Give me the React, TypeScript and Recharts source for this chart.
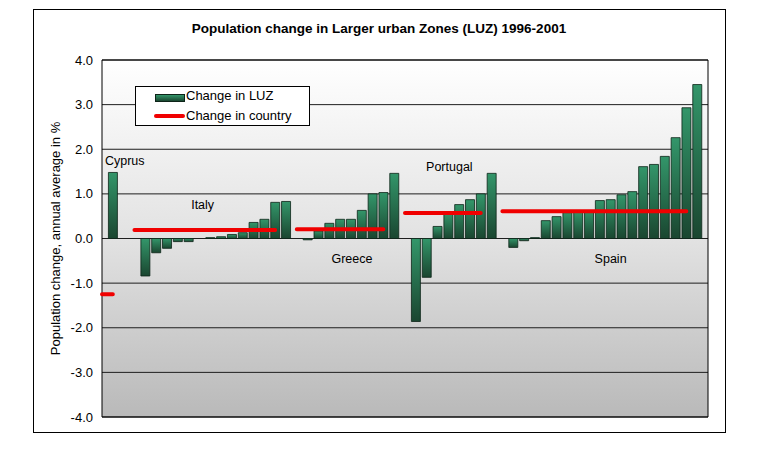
import React from "react";
import {
  ComposedChart,
  Bar,
  Line,
  XAxis,
  YAxis,
  CartesianGrid,
  ReferenceDot,
  ReferenceArea,
  Legend,
} from "recharts";

const FONT = "Arial, 'Liberation Sans', sans-serif";

// Annual average population change (%) per LUZ, sorted within each country
const cyprusLuz = [1.48];
const italyLuz = [-0.84, -0.32, -0.22, -0.07, -0.07, 0.0, 0.02, 0.04, 0.09, 0.13, 0.36, 0.43, 0.81, 0.83];
const greeceLuz = [-0.03, 0.17, 0.34, 0.43, 0.43, 0.63, 1.0, 1.03, 1.46];
const portugalLuz = [-1.86, -0.87, 0.27, 0.55, 0.76, 0.87, 1.0, 1.46];
const spainLuz = [-0.2, -0.05, 0.02, 0.4, 0.49, 0.58, 0.6, 0.62, 0.85, 0.87, 0.98, 1.05, 1.61, 1.66, 1.84, 2.26, 2.93, 3.45];

const countries = ["Cyprus", "Italy", "Greece", "Portugal", "Spain"];
const countryChange = [-1.25, 0.19, 0.21, 0.57, 0.61];
const luzByCountry = [cyprusLuz, italyLuz, greeceLuz, portugalLuz, spainLuz];
// empty category slots in front of each country group
const gapBefore = [0, 2, 1, 1, 1];
// where the country names sit (category slot, value)
const labelSlot = [2.1, 9.3, 23.1, 32.1, 47.0];
const labelValue = [1.74, 0.77, -0.45, 1.61, -0.44];

const yTicks = [-4, -3, -2, -1, 0, 1, 2, 3, 4];

type Row = { k: number; luz: number | null; country: number | null };

const groupStart: number[] = [];
let cursor = 0;
luzByCountry.forEach((vals, g) => {
  const start = cursor + 1 + gapBefore[g];
  groupStart.push(start);
  cursor = start + vals.length - 1;
});
const slotCount = cursor + 1;

const rows: Row[] = [];
for (let k = 0; k <= slotCount; k++) rows.push({ k, luz: null, country: null });
luzByCountry.forEach((vals, g) => {
  const s = groupStart[g];
  vals.forEach((v, i) => {
    rows[s + i].luz = v;
  });
  // the country average runs one slot ahead of its bars
  const from = s - 1;
  const to = Math.max(s + vals.length - 2, s);
  for (let k = from; k <= to; k++) rows[k].country = countryChange[g];
});

function LegendBox() {
  return (
    <div
      style={{
        position: "relative",
        width: 175,
        height: 40,
        boxSizing: "border-box",
        border: "1px solid #000",
        background: "#fff",
        fontFamily: FONT,
        fontSize: 13,
        lineHeight: "15px",
        color: "#000",
      }}
    >
      <div
        style={{
          position: "absolute",
          left: 19,
          top: 7,
          width: 28,
          height: 6,
          border: "1px solid #0d2418",
          background: "linear-gradient(#33966a, #1a4630)",
        }}
      />
      <div style={{ position: "absolute", left: 50, top: 1, whiteSpace: "nowrap" }}>Change in LUZ</div>
      <div
        style={{
          position: "absolute",
          left: 18,
          top: 27,
          width: 31,
          height: 4,
          borderRadius: 2,
          background: "#f00000",
        }}
      />
      <div style={{ position: "absolute", left: 50, top: 21, whiteSpace: "nowrap" }}>Change in country</div>
    </div>
  );
}

function YTitle(props: any) {
  const vb = props.viewBox || { x: 0, y: 60, width: 102, height: 357 };
  const cx = vb.x + 55.5;
  const cy = vb.y + vb.height / 2;
  return (
    <text
      x={cx}
      y={cy}
      transform={`rotate(-90 ${cx} ${cy})`}
      textAnchor="middle"
      dominantBaseline="central"
      fontFamily={FONT}
      fontSize={13}
      fill="#000"
    >
      Population change, annual average in %
    </text>
  );
}

export default function App() {
  return (
    <div
      style={{
        position: "absolute",
        left: 0,
        top: 0,
        width: 780,
        height: 459,
        background: "#fff",
        fontFamily: FONT,
      }}
    >
      <div
        style={{
          position: "absolute",
          left: 33,
          top: 9,
          width: 693,
          height: 424,
          boxSizing: "border-box",
          border: "1px solid #000",
        }}
      />
      <div
        style={{
          position: "absolute",
          left: 33,
          top: 21,
          width: 692,
          textAlign: "center",
          fontWeight: "bold",
          fontSize: 13.5,
          lineHeight: "16px",
          color: "#000",
        }}
      >
        Population change in Larger urban Zones (LUZ) 1996-2001
      </div>
      <ComposedChart
        width={780}
        height={459}
        data={rows}
        margin={{ top: 60, right: 72, bottom: 42, left: 0 }}
        style={{ position: "absolute", left: 0, top: 0 }}
      >
        <defs>
          <linearGradient id="plotBg" x1="0" y1="0" x2="0" y2="1">
            <stop offset="0%" stopColor="#ffffff" />
            <stop offset="50%" stopColor="#e2e2e2" />
            <stop offset="100%" stopColor="#b9b9b9" />
          </linearGradient>
          <linearGradient id="luzGrad" x1="0" y1="0" x2="0" y2="1">
            <stop offset="0%" stopColor="#33966a" />
            <stop offset="100%" stopColor="#1a4630" />
          </linearGradient>
        </defs>
        <CartesianGrid vertical={false} stroke="#1e1e1e" fill="url(#plotBg)" fillOpacity={1} />
        <XAxis dataKey="k" type="number" domain={[0, slotCount]} hide />
        <YAxis
          type="number"
          domain={[-4, 4]}
          ticks={yTicks}
          interval={0}
          tickFormatter={(v: number) => v.toFixed(1)}
          axisLine={false}
          tickLine={false}
          tickSize={0}
          tickMargin={9}
          width={102}
          tick={{ fontSize: 13, fill: "#000", fontFamily: FONT }}
          label={<YTitle />}
        />
        <Bar
          dataKey="luz"
          barSize={9}
          fill="url(#luzGrad)"
          stroke="#0d2418"
          strokeWidth={0.8}
          isAnimationActive={false}
        />
        <Line
          dataKey="country"
          type="linear"
          stroke="#f00000"
          strokeWidth={4}
          strokeLinecap="round"
          dot={false}
          activeDot={false}
          connectNulls={false}
          isAnimationActive={false}
        />
        <ReferenceArea x1={0} x2={slotCount} y1={-4} y2={4} fill="none" stroke="#000" strokeWidth={1} />
        {countries.map((name, i) => (
          <ReferenceDot
            key={name}
            x={labelSlot[i]}
            y={labelValue[i]}
            r={0}
            fill="none"
            stroke="none"
            label={{ value: name, position: "center", fontSize: 12.5, fill: "#000", fontFamily: FONT }}
          />
        ))}
        <Legend
          layout="horizontal"
          verticalAlign="middle"
          align="center"
          wrapperStyle={{ left: 135, top: 86, width: 175, height: 40 }}
          content={() => <LegendBox />}
        />
      </ComposedChart>
    </div>
  );
}
